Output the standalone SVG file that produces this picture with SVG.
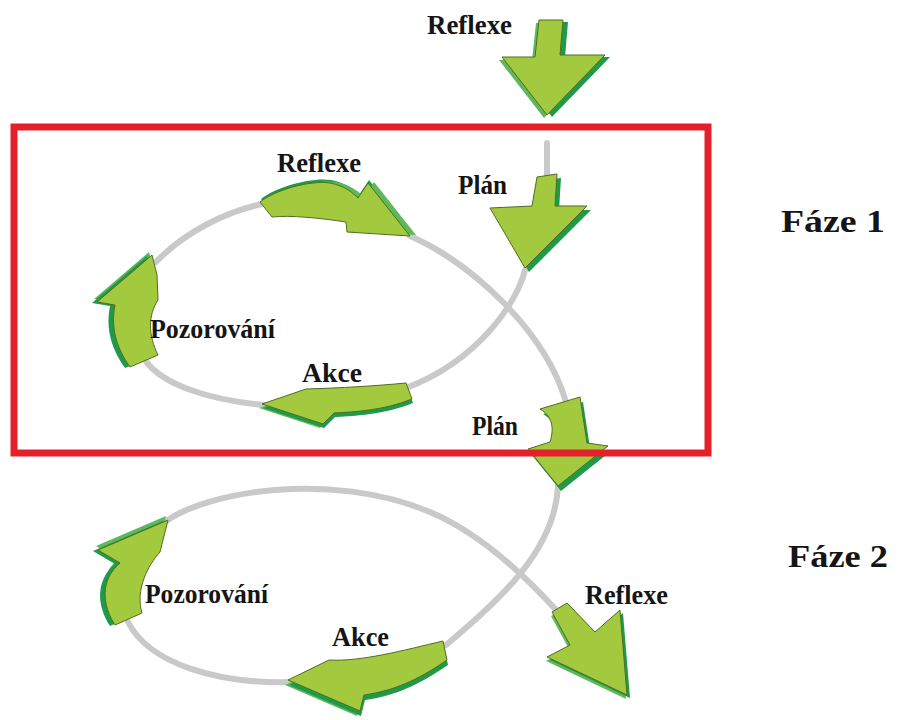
<svg xmlns="http://www.w3.org/2000/svg" xmlns:xlink="http://www.w3.org/1999/xlink" width="898" height="720" viewBox="0 0 898 720">
  <style>
    .face { fill: #a3c93e; stroke: #4f6d22; stroke-width: 1; stroke-linejoin: round; }
    .dark { fill: #1f9a4a; }
    .mid { fill: #5fb85a; }
    .link { fill: none; stroke: #c9c9c9; stroke-width: 6; stroke-linecap: round; }
    .lbl { font-family: "Liberation Serif", "Times New Roman", serif; font-weight: bold; font-size: 27px; fill: #151515; }
    .phase { font-size: 32px; }
    .frame { fill: none; stroke: #e4202a; stroke-width: 7; }
  </style>
  <defs>
    <!-- arrow top faces -->
    <path id="a-reflexe0" d="M539,20 L563,20 L560,55 L605,55 L547,115 L502,57 L535,57 Z"/>
    <path id="a-plan1" d="M537,177 L557,174 L555,206 L587,206 L525,268 L490,208 L532,206 Z"/>
    <path id="a-reflexe1" d="M260,202 C275,190 310,180 330,183 C345,186 352,192 358,198 L368,183 L410,236 L347,232 L346,222 C320,218 290,215 272,217 Z"/>
    <path id="a-akce1" d="M262,404 L306,389 C340,388 375,386 406,383 L412,399 C385,410 355,412 334,413 L323,424 Z"/>
    <path id="a-pozor1" d="M152,255 L157,275 L158,300 C148,315 148,335 158,355 L130,367 C118,350 110,330 115,305 L97,302 Z"/>
    <path id="a-plan2" d="M540,409 L580,397 L587,443 L608,446 L558,486 L528,449 L550,442 C553,432 555,418 540,409 Z"/>
    <path id="a-pozor2" d="M168,520 L160,552 C148,565 135,590 142,613 L115,625 C102,605 100,580 120,563 L98,550 Z"/>
    <path id="a-akce2" d="M288,680 L329,660 C360,662 405,650 443,641 L447,660 C425,675 400,690 364,695 L360,711 Z"/>
    <path id="a-reflexe2" d="M552,612 L567,603 L595,632 L620,610 L627,695 L547,657 L570,645 Z"/>
  </defs>

  <!-- grey loop connectors -->
  <g id="connectors">
    <path class="link" d="M547,143 L547,176"/>
    <path class="link" d="M525,270 C518,300 480,360 406,388"/>
    <path class="link" d="M264,405 C210,400 162,385 145,360"/>
    <path class="link" d="M156,262 C185,232 225,212 262,204"/>
    <path class="link" d="M410,236 C470,262 545,330 566,402"/>
    <path class="link" d="M558,486 C555,550 500,600 446,645"/>
    <path class="link" d="M290,682 C220,684 150,665 128,622"/>
    <path class="link" d="M165,522 C205,492 330,470 430,512 C475,531 520,570 558,612"/>
  </g>

  <!-- top entry arrow -->
  <g id="reflexe-top">
    <use xlink:href="#a-reflexe0" class="mid" transform="translate(-3,3)"/>
    <use xlink:href="#a-reflexe0" class="dark" transform="translate(5,2)"/>
    <use xlink:href="#a-reflexe0" class="face"/>
    <text class="lbl" x="427" y="34" textLength="85" lengthAdjust="spacingAndGlyphs">Reflexe</text>
  </g>

  <!-- phase 1 cycle -->
  <g id="plan-1">
    <use xlink:href="#a-plan1" class="dark" transform="translate(4,4)"/>
    <use xlink:href="#a-plan1" class="face"/>
    <text class="lbl" x="458" y="194" textLength="49" lengthAdjust="spacingAndGlyphs">Plán</text>
  </g>
  <g id="reflexe-1">
    <use xlink:href="#a-reflexe1" class="dark" transform="translate(1,-3)"/>
    <use xlink:href="#a-reflexe1" class="mid" transform="translate(6,-1)"/>
    <use xlink:href="#a-reflexe1" class="face"/>
    <text class="lbl" x="277" y="172" textLength="84" lengthAdjust="spacingAndGlyphs">Reflexe</text>
  </g>
  <g id="akce-1">
    <use xlink:href="#a-akce1" class="mid" transform="translate(-3,4)"/>
    <use xlink:href="#a-akce1" class="dark" transform="translate(1,4)"/>
    <use xlink:href="#a-akce1" class="face"/>
    <text class="lbl" x="302" y="382" textLength="60" lengthAdjust="spacingAndGlyphs">Akce</text>
  </g>
  <g id="pozorovani-1">
    <use xlink:href="#a-pozor1" class="mid" transform="translate(-3,-3)"/>
    <use xlink:href="#a-pozor1" class="dark" transform="translate(-5,1)"/>
    <use xlink:href="#a-pozor1" class="face"/>
    <text class="lbl" x="150" y="338" textLength="125" lengthAdjust="spacingAndGlyphs">Pozorování</text>
  </g>

  <!-- hand-over between phases -->
  <g id="plan-2">
    <use xlink:href="#a-plan2" class="dark" transform="translate(3,5)"/>
    <use xlink:href="#a-plan2" class="face"/>
    <text class="lbl" x="472" y="435" textLength="46" lengthAdjust="spacingAndGlyphs">Plán</text>
  </g>

  <!-- phase 2 cycle -->
  <g id="akce-2">
    <use xlink:href="#a-akce2" class="mid" transform="translate(-3,5)"/>
    <use xlink:href="#a-akce2" class="dark" transform="translate(1,5)"/>
    <use xlink:href="#a-akce2" class="face"/>
    <text class="lbl" x="332" y="646" textLength="57" lengthAdjust="spacingAndGlyphs">Akce</text>
  </g>
  <g id="pozorovani-2">
    <use xlink:href="#a-pozor2" class="mid" transform="translate(-2,-4)"/>
    <use xlink:href="#a-pozor2" class="dark" transform="translate(-5,1)"/>
    <use xlink:href="#a-pozor2" class="face"/>
    <text class="lbl" x="145" y="603" textLength="123" lengthAdjust="spacingAndGlyphs">Pozorování</text>
  </g>
  <g id="reflexe-2">
    <use xlink:href="#a-reflexe2" class="mid" transform="translate(-1,4)"/>
    <use xlink:href="#a-reflexe2" class="dark" transform="translate(3,3)"/>
    <use xlink:href="#a-reflexe2" class="face"/>
    <text class="lbl" x="585" y="604" textLength="83" lengthAdjust="spacingAndGlyphs">Reflexe</text>
  </g>

  <!-- phase frame and phase captions -->
  <g id="phase-1">
    <rect class="frame" x="14" y="127" width="694" height="326"/>
    <text class="lbl phase" x="781" y="232" textLength="104" lengthAdjust="spacingAndGlyphs">Fáze 1</text>
  </g>
  <g id="phase-2">
    <text class="lbl phase" x="788" y="567" textLength="100" lengthAdjust="spacingAndGlyphs">Fáze 2</text>
  </g>
</svg>
